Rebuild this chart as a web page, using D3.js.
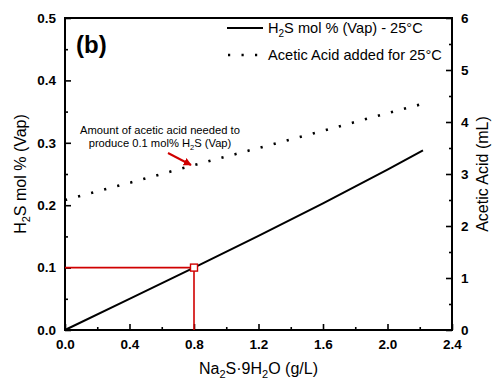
<!doctype html>
<html lang="en">
<head>
<meta charset="utf-8">
<title>H2S vs Na2S</title>
<script src="https://d3js.org/d3.v7.min.js"></script>
<style>
  body { margin: 0; background: #fff; }
  svg text { font-family: Arial, "Liberation Sans", sans-serif; }
  .tick text { font-weight: bold; font-size: 13.5px; }
</style>
</head>
<body>
<div id="chart"></div>
<script>
// Na2S.9H2O (g/L) vs H2S mol % (vap)
var naConc = [0, 0.4, 0.8, 1.2, 1.6, 2.0, 2.22];
var h2sMol = [0, 0.05, 0.1, 0.151, 0.203, 0.257, 0.288];
// acetic acid added (mL), right axis
var acidConc = [0, 0.4, 0.8, 1.2, 1.6, 2.0, 2.22];
var acidMl = [2.5, 2.83, 3.17, 3.5, 3.83, 4.17, 4.35];
// the marked point
var markX = 0.8, markY = 0.1;

var xTicks = [0, 0.4, 0.8, 1.2, 1.6, 2.0, 2.4];
var yTicks = [0, 0.1, 0.2, 0.3, 0.4, 0.5];
var y2Ticks = [0, 1, 2, 3, 4, 5, 6];

var W = 492, H = 381;
var margin = {top: 18, right: 40, bottom: 51, left: 65};
var width = W - margin.left - margin.right,
    height = H - margin.top - margin.bottom;

var svg = d3.select("#chart").append("svg")
    .attr("width", W).attr("height", H);
var g = svg.append("g")
    .attr("transform", "translate(" + margin.left + "," + margin.top + ")");

var x = d3.scaleLinear().domain([0, 2.4]).range([0, width]);
var y = d3.scaleLinear().domain([0, 0.5]).range([height, 0]);
var y2 = d3.scaleLinear().domain([0, 6]).range([height, 0]);

// minor ticks (no labels)
var minorX = d3.range(0.2, 2.4, 0.4);
var minorY = d3.range(0.05, 0.5, 0.1);
var minorY2 = d3.range(0.5, 6, 1);

g.append("g").attr("transform", "translate(0," + height + ")")
  .call(d3.axisBottom(x).tickValues(minorX).tickSize(-3).tickFormat(""));
g.append("g")
  .call(d3.axisLeft(y).tickValues(minorY).tickSize(-3).tickFormat(""));
g.append("g").attr("transform", "translate(" + width + ",0)")
  .call(d3.axisRight(y2).tickValues(minorY2).tickSize(-3).tickFormat(""));

g.append("g").attr("transform", "translate(0," + height + ")")
  .call(d3.axisBottom(x).tickValues(xTicks).tickSize(-6).tickPadding(9)
    .tickFormat(d3.format(".1f")));
g.append("g")
  .call(d3.axisLeft(y).tickValues(yTicks).tickSize(-6).tickPadding(9)
    .tickFormat(d3.format(".1f")));
g.append("g").attr("transform", "translate(" + width + ",0)")
  .call(d3.axisRight(y2).tickValues(y2Ticks).tickSize(-6).tickPadding(9)
    .tickFormat(d3.format("d")));

g.selectAll(".domain").remove();
g.selectAll(".tick line").attr("stroke", "#000").attr("stroke-width", 1.6);
g.selectAll(".tick text").attr("fill", "#000");

// frame
g.append("rect").attr("width", width).attr("height", height)
  .attr("fill", "none").attr("stroke", "#000").attr("stroke-width", 2);

// red guide lines
g.append("line")
  .attr("x1", x(0)).attr("x2", x(markX)).attr("y1", y(markY)).attr("y2", y(markY))
  .attr("stroke", "#d00000").attr("stroke-width", 1.6);
g.append("line")
  .attr("x1", x(markX)).attr("x2", x(markX)).attr("y1", y(0)).attr("y2", y(markY))
  .attr("stroke", "#d00000").attr("stroke-width", 1.6);

// H2S line
var lineH2s = d3.line().x(function (d, i) { return x(naConc[i]); })
  .y(function (d) { return y(d); });
g.append("path").datum(h2sMol)
  .attr("d", lineH2s).attr("fill", "none")
  .attr("stroke", "#000").attr("stroke-width", 2);

// acetic acid dotted line
var lineAcid = d3.line().x(function (d, i) { return x(acidConc[i]); })
  .y(function (d) { return y2(d); });
g.append("path").datum(acidMl)
  .attr("d", lineAcid).attr("fill", "none")
  .attr("stroke", "#000").attr("stroke-width", 2.6)
  .attr("stroke-dasharray", "2.2,11.3");

// marker square
g.append("rect")
  .attr("x", x(markX) - 3.5).attr("y", y(markY) - 3.5)
  .attr("width", 7).attr("height", 7)
  .attr("fill", "#fff").attr("stroke", "#d00000").attr("stroke-width", 1.4);

// panel label
svg.append("text").attr("x", 76).attr("y", 53)
  .attr("font-size", 24).attr("font-weight", "bold").text("(b)");

// legend
svg.append("line").attr("x1", 227).attr("x2", 263).attr("y1", 28).attr("y2", 28)
  .attr("stroke", "#000").attr("stroke-width", 2);
svg.append("line").attr("x1", 228).attr("x2", 263).attr("y1", 55).attr("y2", 55)
  .attr("stroke", "#000").attr("stroke-width", 2.6).attr("stroke-dasharray", "2.2,11.3");
var leg1 = svg.append("text").attr("x", 268).attr("y", 33).attr("font-size", 14.6);
leg1.append("tspan").text("H");
leg1.append("tspan").attr("font-size", 10).attr("dy", 4).text("2");
leg1.append("tspan").attr("dy", -4).text("S mol % (Vap) - 25°C");
svg.append("text").attr("x", 268).attr("y", 60).attr("font-size", 14.6)
  .text("Acetic Acid added for 25°C");

// annotation
svg.append("text").attr("text-anchor", "middle").attr("font-size", 11.2)
  .attr("x", 160).attr("y", 134).text("Amount of acetic acid needed to");
var ann2 = svg.append("text").attr("text-anchor", "middle").attr("font-size", 11.2)
  .attr("x", 160).attr("y", 147);
ann2.append("tspan").text("produce 0.1 mol% H");
ann2.append("tspan").attr("font-size", 7.5).attr("dy", 3).text("2");
ann2.append("tspan").attr("dy", -3).text("S (Vap)");

svg.append("defs").append("marker").attr("id", "arr")
  .attr("viewBox", "0 0 10 10").attr("refX", 9).attr("refY", 5)
  .attr("markerWidth", 4).attr("markerHeight", 4).attr("orient", "auto")
  .append("path").attr("d", "M0,0 L10,5 L0,10 z").attr("fill", "#d00000");
svg.append("line").attr("x1", 168).attr("y1", 153).attr("x2", 191).attr("y2", 165)
  .attr("stroke", "#d00000").attr("stroke-width", 2).attr("marker-end", "url(#arr)");

// axis titles
var xt = svg.append("text").attr("x", margin.left + width / 2).attr("y", 374)
  .attr("text-anchor", "middle").attr("font-size", 16);
xt.append("tspan").text("Na");
xt.append("tspan").attr("font-size", 11).attr("dy", 3.5).text("2");
xt.append("tspan").attr("dy", -3.5).text("S·9H");
xt.append("tspan").attr("font-size", 11).attr("dy", 3.5).text("2");
xt.append("tspan").attr("dy", -3.5).text("O (g/L)");

var yt = svg.append("text")
  .attr("transform", "translate(26," + (margin.top + height / 2) + ") rotate(-90)")
  .attr("text-anchor", "middle").attr("font-size", 16);
yt.append("tspan").text("H");
yt.append("tspan").attr("font-size", 11).attr("dy", 4).text("2");
yt.append("tspan").attr("dy", -4).text("S mol % (Vap)");

svg.append("text")
  .attr("transform", "translate(488," + (margin.top + height / 2) + ") rotate(-90)")
  .attr("text-anchor", "middle").attr("font-size", 16)
  .text("Acetic Acid (mL)");
</script>
</body>
</html>
